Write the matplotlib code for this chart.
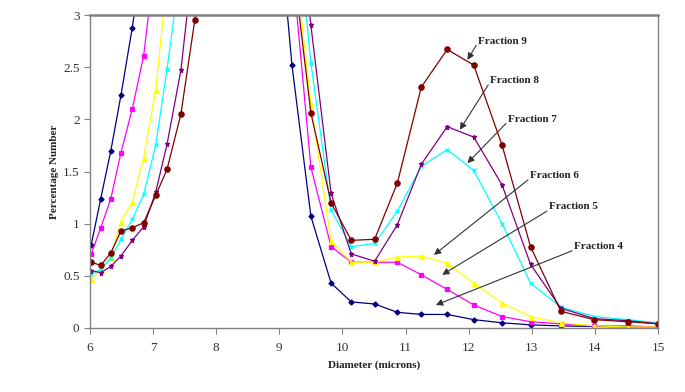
import matplotlib
matplotlib.use("Agg")
import matplotlib.pyplot as plt
from matplotlib.ticker import FuncFormatter

# channel diameters (microns)
diam = [6.02, 6.17, 6.33, 6.49, 6.67, 6.85, 7.04, 7.22, 7.44, 7.66,
        7.89, 8.13, 8.37, 8.62, 8.90, 9.20, 9.50, 9.82, 10.14, 10.51,
        10.87, 11.25, 11.66, 12.08, 12.53, 12.98, 13.46, 13.99, 14.52, 15.0]

frac4 = [0.80, 1.24, 1.70, 2.23, 2.88, 3.66, 4.6, 5.5, 6.5, 7.0,
         7.5, 7.5, 7.0, 6.0, 4.53, 2.52, 1.07, 0.43, 0.25, 0.23,
         0.15, 0.13, 0.13, 0.08, 0.05, 0.03, 0.02, 0.015, 0.01, 0.01]
frac5 = [0.71, 0.96, 1.24, 1.68, 2.10, 2.61, 3.58, 4.5, 5.5, 6.2,
         6.8, 7.0, 6.8, 6.0, 4.8, 3.52, 1.54, 0.78, 0.63, 0.63,
         0.63, 0.51, 0.37, 0.22, 0.11, 0.06, 0.04, 0.02, 0.02, 0.01]
frac6 = [0.47, 0.56, 0.68, 1.02, 1.21, 1.63, 2.28, 3.33, 4.3, 5.2,
         6.0, 6.5, 6.5, 6.0, 5.0, 3.77, 2.15, 0.83, 0.63, 0.63,
         0.68, 0.69, 0.62, 0.43, 0.24, 0.11, 0.05, 0.02, 0.01, 0.01]
frac7 = [0.52, 0.56, 0.67, 0.85, 1.04, 1.28, 1.75, 2.48, 3.48, 4.3,
         5.2, 5.8, 6.0, 6.0, 5.5, 4.4, 2.54, 1.13, 0.78, 0.81,
         1.12, 1.55, 1.71, 1.51, 1.00, 0.43, 0.20, 0.11, 0.08, 0.05]
frac8 = [0.55, 0.53, 0.59, 0.69, 0.84, 0.97, 1.30, 1.76, 2.47, 3.67,
         4.6, 5.4, 6.0, 6.2, 5.8, 4.6, 2.90, 1.29, 0.71, 0.64,
         0.99, 1.57, 1.93, 1.83, 1.37, 0.61, 0.19, 0.09, 0.07, 0.04]
frac9 = [0.63, 0.60, 0.72, 0.93, 0.96, 1.01, 1.27, 1.52, 2.05, 2.95,
         3.6, 4.3, 5.0, 5.3, 5.0, 3.58, 2.06, 1.20, 0.84, 0.85,
         1.39, 2.31, 2.67, 2.52, 1.75, 0.78, 0.16, 0.08, 0.06, 0.04]

x_ticks = [6, 7, 8, 9, 10, 11, 12, 13, 14, 15]
y_ticks = [0, 0.5, 1, 1.5, 2, 2.5, 3]

# label text, text position, arrow tip
labels = ["Fraction 9", "Fraction 8", "Fraction 7", "Fraction 6", "Fraction 5", "Fraction 4"]
label_pos = [(12.15, 2.75), (12.34, 2.37), (12.62, 2.00), (12.97, 1.46), (13.27, 1.16), (13.67, 0.78)]
arrow_tip = [(11.98, 2.57), (11.86, 1.90), (11.98, 1.58), (11.45, 0.70), (11.58, 0.51), (11.48, 0.22)]

SERIF = "Liberation Serif"

fig = plt.figure(figsize=(6.85, 3.92), dpi=100)
fig.patch.set_facecolor("white")
ax = fig.add_axes([0.1314, 0.1633, 0.8292, 0.7984])

styles = [
    (frac4, "#000080", "D", 2.6),
    (frac5, "#FF00FF", "s", 3.4),
    (frac6, "#FFFF00", "^", 3.6),
    (frac7, "#00FFFF", "x", 3.0),
    (frac8, "#800080", "*", 3.6),
    (frac9, "#800000", "o", 3.8),
]
for ys, col, mk, ms in styles:
    ax.plot(diam, ys, color=col, lw=0.9, marker=mk, ms=ms,
            mec=col, mfc=col, mew=0.9)

ax.set_xlim(6, 15)
ax.set_ylim(0, 3)
ax.set_xticks(x_ticks)
ax.set_yticks(y_ticks)
ax.yaxis.set_major_formatter(FuncFormatter(lambda v, p: f"{v:g}"))

for s in ["left", "bottom", "right"]:
    ax.spines[s].set_color("#808080")
    ax.spines[s].set_linewidth(1.0)
ax.spines["top"].set_color("#808080")
ax.spines["top"].set_linewidth(1.8)
ax.tick_params(direction="out", length=4, color="#808080", labelcolor="#333333",
               labelsize=9.5)
for lab in ax.get_xticklabels() + ax.get_yticklabels():
    lab.set_fontfamily(SERIF)
ax.tick_params(axis="x", pad=6)

ax.set_xlabel("Diameter (microns)", fontsize=8, fontweight="bold",
              family=SERIF, color="#222222", labelpad=5)
ax.set_ylabel("Percentage Number", fontsize=8, fontweight="bold",
              family=SERIF, color="#222222", labelpad=3)

for txt, (tx, ty), (hx, hy) in zip(labels, label_pos, arrow_tip):
    ax.annotate("", xy=(hx, hy), xytext=(tx - 0.03, ty - 0.04),
                arrowprops=dict(arrowstyle="-|>", color="#333333", lw=0.8,
                                mutation_scale=10, shrinkA=0, shrinkB=0))
    ax.text(tx, ty, txt, fontsize=8, fontweight="bold", family=SERIF,
            color="#222222", ha="left", va="center")

fig.savefig("out.png", dpi=100, facecolor="white")
